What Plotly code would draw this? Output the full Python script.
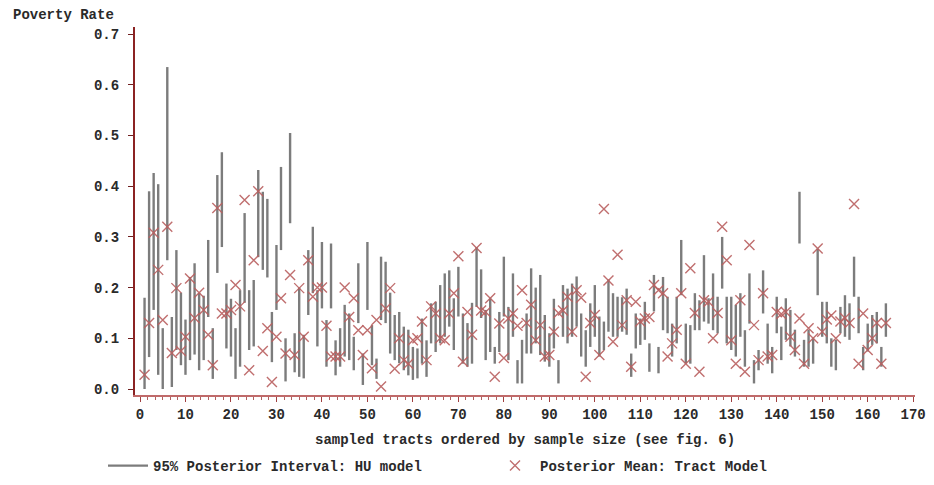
import plotly.graph_objects as go

# ---- data ----
tract = list(range(1, 165))

interval_lo = [
    0.000, 0.063, 0.156, 0.028, 0.000, 0.254, 0.004, 0.077, 0.047, 0.028,
    0.057, 0.068, 0.037, 0.057, 0.142, 0.020, 0.229, 0.280, 0.080, 0.064,
    0.020, 0.044, 0.170, 0.077, 0.084, 0.260, 0.235, 0.220, 0.053, 0.156,
    0.274, 0.015, 0.327, 0.033, 0.024, 0.021, 0.146, 0.189, 0.084, 0.159,
    0.044, 0.159, 0.027, 0.044, 0.064, 0.057, 0.037, 0.130, 0.008, 0.156,
    0.047, 0.020, 0.136, 0.130, 0.070, 0.057, 0.051, 0.037, 0.027, 0.018,
    0.021, 0.050, 0.024, 0.090, 0.073, 0.090, 0.103, 0.123, 0.077, 0.143,
    0.050, 0.044, 0.050, 0.162, 0.140, 0.057, 0.073, 0.050, 0.073, 0.143,
    0.057, 0.103, 0.011, 0.011, 0.070, 0.070, 0.090, 0.067, 0.054, 0.044,
    0.080, 0.011, 0.103, 0.090, 0.103, 0.123, 0.064, 0.044, 0.083, 0.103,
    0.064, 0.077, 0.113, 0.103, 0.103, 0.113, 0.107, 0.024, 0.080, 0.087,
    0.097, 0.034, 0.153, 0.031, 0.116, 0.110, 0.064, 0.090, 0.185, 0.050,
    0.050, 0.116, 0.116, 0.133, 0.129, 0.116, 0.110, 0.198, 0.090, 0.077,
    0.064, 0.103, 0.044, 0.129, 0.011, 0.037, 0.149, 0.050, 0.031, 0.110,
    0.057, 0.097, 0.084, 0.064, 0.287, 0.044, 0.044, 0.050, 0.185, 0.103,
    0.090, 0.044, 0.037, 0.110, 0.103, 0.097, 0.182, 0.110, 0.037, 0.074,
    0.087, 0.090, 0.044, 0.103,
]

interval_hi = [
    0.180, 0.390, 0.426, 0.404, 0.120, 0.635, 0.142, 0.274, 0.190, 0.137,
    0.221, 0.248, 0.190, 0.184, 0.294, 0.120, 0.422, 0.467, 0.208, 0.178,
    0.120, 0.195, 0.347, 0.195, 0.215, 0.432, 0.389, 0.375, 0.152, 0.284,
    0.438, 0.100, 0.505, 0.110, 0.200, 0.107, 0.274, 0.320, 0.195, 0.290,
    0.136, 0.287, 0.096, 0.120, 0.166, 0.149, 0.103, 0.248, 0.070, 0.290,
    0.126, 0.060, 0.261, 0.251, 0.190, 0.146, 0.152, 0.123, 0.117, 0.083,
    0.080, 0.139, 0.096, 0.169, 0.172, 0.205, 0.228, 0.234, 0.179, 0.241,
    0.149, 0.130, 0.170, 0.280, 0.236, 0.156, 0.179, 0.083, 0.152, 0.261,
    0.162, 0.228, 0.057, 0.097, 0.149, 0.238, 0.200, 0.225, 0.146, 0.110,
    0.178, 0.057, 0.205, 0.198, 0.208, 0.222, 0.149, 0.116, 0.169, 0.205,
    0.143, 0.133, 0.216, 0.189, 0.182, 0.181, 0.198, 0.070, 0.149, 0.139,
    0.172, 0.090, 0.225, 0.083, 0.221, 0.182, 0.129, 0.182, 0.294, 0.129,
    0.126, 0.189, 0.175, 0.264, 0.179, 0.228, 0.182, 0.300, 0.182, 0.182,
    0.166, 0.189, 0.116, 0.228, 0.057, 0.077, 0.234, 0.129, 0.083, 0.182,
    0.123, 0.179, 0.156, 0.117, 0.389, 0.097, 0.117, 0.100, 0.277, 0.172,
    0.172, 0.100, 0.097, 0.162, 0.185, 0.169, 0.261, 0.182, 0.083, 0.129,
    0.146, 0.152, 0.083, 0.169,
]

posterior_mean = [
    0.028, 0.130, 0.308, 0.235, 0.136, 0.320, 0.071, 0.199, 0.075, 0.103,
    0.218, 0.140, 0.190, 0.156, 0.107, 0.047, 0.357, 0.149, 0.149, 0.156,
    0.205, 0.163, 0.373, 0.037, 0.254, 0.390, 0.075, 0.120, 0.014, 0.103,
    0.179, 0.070, 0.225, 0.067, 0.199, 0.103, 0.254, 0.182, 0.200, 0.200,
    0.125, 0.064, 0.064, 0.064, 0.200, 0.142, 0.179, 0.116, 0.067, 0.116,
    0.041, 0.136, 0.005, 0.159, 0.199, 0.040, 0.100, 0.057, 0.050, 0.096,
    0.100, 0.133, 0.057, 0.163, 0.149, 0.100, 0.096, 0.149, 0.189, 0.262,
    0.054, 0.152, 0.107, 0.278, 0.155, 0.152, 0.179, 0.024, 0.129, 0.061,
    0.139, 0.149, 0.125, 0.195, 0.130, 0.166, 0.096, 0.126, 0.064, 0.067,
    0.113, 0.150, 0.155, 0.182, 0.113, 0.195, 0.180, 0.024, 0.130, 0.146,
    0.067, 0.355, 0.214, 0.093, 0.265, 0.126, 0.175, 0.044, 0.172, 0.133,
    0.139, 0.142, 0.205, 0.195, 0.189, 0.064, 0.090, 0.117, 0.189, 0.050,
    0.238, 0.150, 0.034, 0.175, 0.172, 0.100, 0.150, 0.320, 0.254, 0.096,
    0.050, 0.175, 0.034, 0.284, 0.126, 0.057, 0.189, 0.064, 0.067, 0.152,
    0.148, 0.152, 0.103, 0.077, 0.139, 0.050, 0.120, 0.100, 0.277, 0.113,
    0.137, 0.145, 0.100, 0.133, 0.140, 0.130, 0.365, 0.050, 0.149, 0.077,
    0.100, 0.130, 0.050, 0.130,
]

x_tick_vals = list(range(0, 171, 10))
y_tick_vals = [0.0, 0.1, 0.2, 0.3, 0.4, 0.5, 0.6, 0.7]
y_tick_text = ["0.0", "0.1", "0.2", "0.3", "0.4", "0.5", "0.6", "0.7"]

# ---- build the interval segments ----
seg_x, seg_y = [], []
for t, lo, hi in zip(tract, interval_lo, interval_hi):
    seg_x += [t, t, None]
    seg_y += [lo, hi, None]

FONT = "Liberation Mono"
font = dict(family=FONT, size=14, color="#2a2a2a", weight="bold")

fig = go.Figure()
fig.add_trace(go.Scatter(
    x=seg_x, y=seg_y, mode="lines",
    line=dict(color="#7c7c7c", width=2.4),
    name="95% Posterior Interval: HU model",
    hoverinfo="skip",
))
fig.add_trace(go.Scatter(
    x=tract, y=posterior_mean, mode="markers",
    marker=dict(symbol="x-thin", size=10,
                line=dict(width=1.4, color="rgba(185,95,95,0.9)")),
    name="Posterior Mean: Tract Model",
))

# the page body adds an 8px offset, so margins are shifted by -8 px
fig.update_layout(
    width=934, height=485,
    margin=dict(l=127, r=27, t=19, b=98, autoexpand=False),
    paper_bgcolor="white", plot_bgcolor="white",
    font=font,
    showlegend=True,
    legend=dict(orientation="h", xref="paper", yref="paper",
                x=-32 / 780, y=-71 / 368, xanchor="left", yanchor="middle",
                font=font, entrywidth=332, itemwidth=40, bgcolor="rgba(0,0,0,0)"),
    xaxis=dict(range=[-1.1, 170.4], tickvals=x_tick_vals, ticks="outside",
               ticklen=5, tickwidth=1, tickcolor="#a04040",
               ticklabelstandoff=0, automargin=False, ticklabeloverflow="allow",
               showline=True, linecolor="#c06a6a", linewidth=2,
               showgrid=False, zeroline=False, tickfont=font,
               minor=dict(dtick=10 / 6, ticks="outside", ticklen=3,
                          tickcolor="#b06060", showgrid=False)),
    yaxis=dict(range=[-0.0118, 0.714], tickvals=y_tick_vals, ticktext=y_tick_text,
               ticks="outside", ticklen=5, tickwidth=1, tickcolor="#702020",
               ticklabelstandoff=6, automargin=False,
               showline=True, linecolor="#8b2323", linewidth=2,
               showgrid=False, zeroline=False, tickfont=font),
    annotations=[
        dict(text="Poverty Rate", xref="paper", yref="paper",
             x=-124 / 780, y=1 + 12 / 368, xanchor="left", yanchor="middle",
             showarrow=False, font=font),
        dict(text="sampled tracts ordered by sample size (see fig. 6)",
             xref="paper", yref="paper", x=0.5, y=-45 / 368,
             xanchor="center", yanchor="middle", showarrow=False, font=font),
    ],
)

fig.write_html("out.html")
